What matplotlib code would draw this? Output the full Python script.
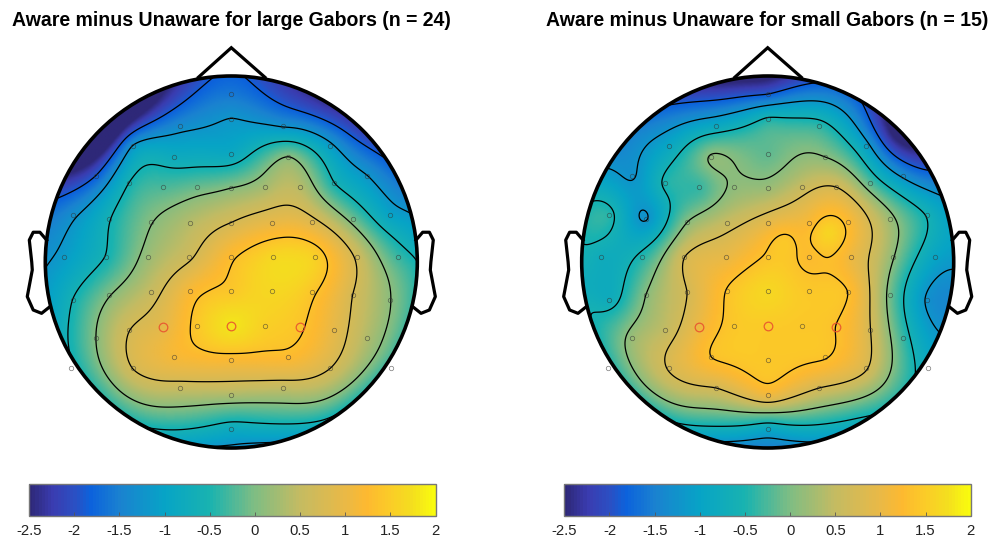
import numpy as np
import matplotlib
matplotlib.use("Agg")
import matplotlib.pyplot as plt
from matplotlib.cm import ScalarMappable
from matplotlib.colors import LinearSegmentedColormap, Normalize
from matplotlib.patches import Circle

plt.rcParams["font.family"] = ["Liberation Sans", "DejaVu Sans"]
plt.rcParams["contour.negative_linestyle"] = "solid"

W, H = 991, 538
R_PX = 186.0

# electrode positions in head units, row by row (front to back)
elec_x = np.array([0,
    -.278, 0, .278,
    -.529, -.306, 0, .306, .529,
    -.728, -.552, -.369, -.183, 0, .183, .369, .552, .728,
    -.853, -.656, -.432, -.221, 0, .221, .432, .656, .855,
    -.898, -.674, -.450, -.226, 0, .224, .450, .674, .898,
    -.853, -.656, -.432, -.221, 0, .221, .432, .656, .855,
    -.728, -.552, -.369, -.183, 0, .183, .369, .552, .728,
    -.860, -.529, -.306, 0, .306, .529, .861,
    -.278, .278, 0, 0])
elec_y = np.array([.902,
    .731, .767, .731,
    .625, .566, .582, .566, .625,
    .464, .423, .401, .401, .398, .401, .401, .423, .464,
    .253, .233, .215, .210, .211, .210, .215, .233, .253,
    .027, .027, .027, .027, .027, .027, .027, .027, .027,
    -.202, -.179, -.161, -.156, -.158, -.156, -.161, -.179, -.202,
    -.409, -.367, -.348, -.346, -.344, -.346, -.348, -.367, -.409,
    -.568, -.572, -.513, -.529, -.513, -.572, -.568,
    -.676, -.676, -.713, -.898])

large_vals = np.array([-1.6,
    -1.35, -1.2, -1.25,
    -1.2, -0.8, -0.85, 0.07, -1.1,
    -1.85, -0.57, -0.25, -0.1, 0.07, 0.3, 0.4, -0.55, -1.2,
    -1.3, -0.6, 0.05, 0.4, 0.72, 1.0, 0.85, -0.1, -1.0,
    -1.1, -0.55, 0.2, 0.65, 1.3, 1.65, 1.55, 0.65, -0.35,
    -0.57, 0.05, 0.55, 1.2, 1.45, 1.65, 1.42, 0.7, 0.08,
    0.07, 0.7, 0.95, 1.45, 1.8, 1.55, 1.4, 0.95, 0.35,
    -1.0, 0.72, 1.15, 1.2, 1.25, 0.72, -0.8,
    0.55, 0.5, 0.35, -0.8])
small_vals = np.array([-1.85,
    -0.85, -0.5, -0.4,
    -0.9, 0.1, -0.15, 0.07, -1.05,
    -1.25, -0.5, -0.35, 0.12, 0.2, 0.55, 0.72, -0.2, -1.3,
    -0.45, -1.24, 0.07, 0.55, 0.95, 1.2, 1.25, 0.2, -0.6,
    -0.75, -0.45, 0.7, 1.0, 1.4, 1.28, 1.05, 0.1, -0.95,
    -0.75, 0.07, 0.72, 1.37, 1.65, 1.45, 1.35, -0.05, -1.25,
    0.2, 0.5, 1.05, 1.45, 1.48, 1.45, 1.35, 0.72, -0.35,
    -0.9, 0.75, 1.35, 1.45, 1.38, 0.75, -0.9,
    0.72, 0.72, 1.1, -0.9])

# scalp edge values every 15 degrees, counter clockwise from the right
rim_deg = np.arange(0, 360, 15)
large_rim = np.array([-0.57, -1.21, -1.75, -2.2, -2.4, -2.2, -1.8, -2.2, -3.0, -3.5, -2.6, -1.6,
                      -1.25, -0.95, -0.57, -0.4, -0.5, -0.95, -1.3, -1.2, -0.7, -0.45, -0.3, -0.35])
small_rim = np.array([-1.15, -1.0, -1.9, -2.8, -1.85, -1.87, -2.6, -2.5, -1.95, -1.5, -1.2, -0.45,
                      -0.65, -0.6, -0.45, -0.35, -0.6, -1.21, -1.5, -1.2, -0.75, -0.4, -0.9, -1.4])

# spots on the right panel that no electrode covers: closed loop, lobe, saddle between them
small_peak_x = [.319, .093, .173]
small_peak_y = [.156, .118, .118]
small_peak_val = [1.62, 1.45, 1.3]

levels = [-1.857, -1.214, -0.571, 0.071, 0.714, 1.357]
bar_ticks = [-2.5, -2, -1.5, -1, -0.5, 0, 0.5, 1, 1.5, 2]
bar_labels = ["-2.5", "-2", "-1.5", "-1", "-0.5", "0", "0.5", "1", "1.5", "2"]
cmap_vals = [-2.5, -2.25, -2, -1.83, -1.5, -1, -0.5, 0, 0.5, 1, 1.25, 1.5, 1.75, 2]
cmap_cols = ["#2e2878", "#3a3cb0", "#2a50c4", "#0c62dc", "#1a82d0", "#07a4c6", "#19b3b0", "#7fbd83",
             "#c4bb62", "#e9b947", "#fdb930", "#fbcb28", "#f4de1f", "#f9fb0e"]
red_idx = [47, 49, 51]

nose_x = [-.177, 0, .181]
nose_y = [.993, 1.152, .993]
ear_x = np.array([-.993, -1.029, -1.065, -1.086, -1.073, -1.07, -1.097, -1.065, -1.02, -.975])
ear_y = np.array([.118, .16, .16, .118, 0, -.043, -.186, -.258, -.276, -.24])

stops = [((v + 2.5) / 4.5, c) for v, c in zip(cmap_vals, cmap_cols)]
cmap = LinearSegmentedColormap.from_list("field", stops, N=256)
bar_cmap = LinearSegmentedColormap.from_list("bar", stops, N=128)


def green(r):
    out = np.zeros_like(r)
    ok = r > 0
    out[ok] = r[ok] ** 2 * (np.log(r[ok]) - 1)
    return out


def spline_grid(x, y, z, gx, gy):
    # biharmonic spline, same thing as griddata v4
    A = green(np.hypot(x[:, None] - x[None, :], y[:, None] - y[None, :]))
    w = np.linalg.solve(A, z)
    d = np.hypot(gx[..., None] - x, gy[..., None] - y)
    return green(d) @ w


def px_axes(fig, left, top, width, height):
    return fig.add_axes([left / W, 1 - (top + height) / H, width / W, height / H])


def draw_head(fig, cx, cy, vals, rim, px=(), py=(), pv=()):
    ax = px_axes(fig, cx - 1.2 * R_PX, cy - 1.2 * R_PX, 2.4 * R_PX, 2.4 * R_PX)
    th = np.deg2rad(rim_deg)
    # outer electrodes sit past the rim, leave them out of the fit
    inside = np.hypot(elec_x, elec_y) < 0.98
    x = np.r_[elec_x[inside], np.cos(th), px]
    y = np.r_[elec_y[inside], np.sin(th), py]
    z = np.r_[vals[inside], rim, pv]
    gx, gy = np.meshgrid(np.linspace(-1.02, 1.02, 301), np.linspace(-1.02, 1.02, 301))
    field = spline_grid(x, y, z, gx, gy)

    clip = Circle((0, 0), 1.0, transform=ax.transData)
    im = ax.imshow(field, extent=[-1.02, 1.02, -1.02, 1.02], origin="lower", cmap=cmap,
                   vmin=-2.5, vmax=2, interpolation="bilinear", zorder=1)
    im.set_clip_path(clip)
    cs = ax.contour(gx, gy, field, levels=levels, colors="black", linewidths=0.9, zorder=2)
    cs.set_clip_path(clip)

    plain = np.setdiff1d(np.arange(elec_x.size), red_idx)
    ax.plot(elec_x[plain], elec_y[plain], "o", ms=3.2, mfc="none", mec="#333333", mew=0.55, alpha=0.6, zorder=3, clip_on=False)
    ax.plot(elec_x[red_idx], elec_y[red_idx], "o", ms=6.2, mfc="none", mec="#e8532f", mew=0.9, alpha=0.9, zorder=4)

    ax.add_patch(Circle((0, 0), 1.0, fc="none", ec="black", lw=2.6, zorder=5))
    ax.plot(nose_x, nose_y, color="black", lw=2.3, zorder=4, solid_joinstyle="miter")
    ax.plot(ear_x, ear_y, color="black", lw=2.3, zorder=4)
    ax.plot(-ear_x, ear_y, color="black", lw=2.3, zorder=4)
    ax.set_xlim(-1.2, 1.2)
    ax.set_ylim(-1.2, 1.2)
    ax.axis("off")


def draw_bar(fig, left):
    cax = px_axes(fig, left, 483.5, 406.5, 32.2)
    cb = fig.colorbar(ScalarMappable(Normalize(-2.5, 2), bar_cmap), cax=cax, orientation="horizontal")
    cb.set_ticks(bar_ticks)
    cb.set_ticklabels(bar_labels)
    cax.tick_params(axis="x", direction="in", length=3, width=0.6, color="#555555",
                    labelsize=10.7, labelcolor="#222222", pad=6)
    cb.outline.set_edgecolor("#777777")
    cb.outline.set_linewidth(1.0)


fig = plt.figure(figsize=(W / 100, H / 100), dpi=100)

draw_head(fig, 231.3, 262, large_vals, large_rim)
draw_head(fig, 767.7, 262, small_vals, small_rim, small_peak_x, small_peak_y, small_peak_val)
draw_bar(fig, 29)
draw_bar(fig, 564.3)

fig.text(231.5 / W, 1 - 20 / H, "Aware minus Unaware for large Gabors (n = 24)", ha="center", va="center",
         fontsize=14.05, fontweight="bold")
fig.text(767 / W, 1 - 20 / H, "Aware minus Unaware for small Gabors (n = 15)", ha="center", va="center",
         fontsize=14.05, fontweight="bold")

fig.savefig("out.png", dpi=100)
